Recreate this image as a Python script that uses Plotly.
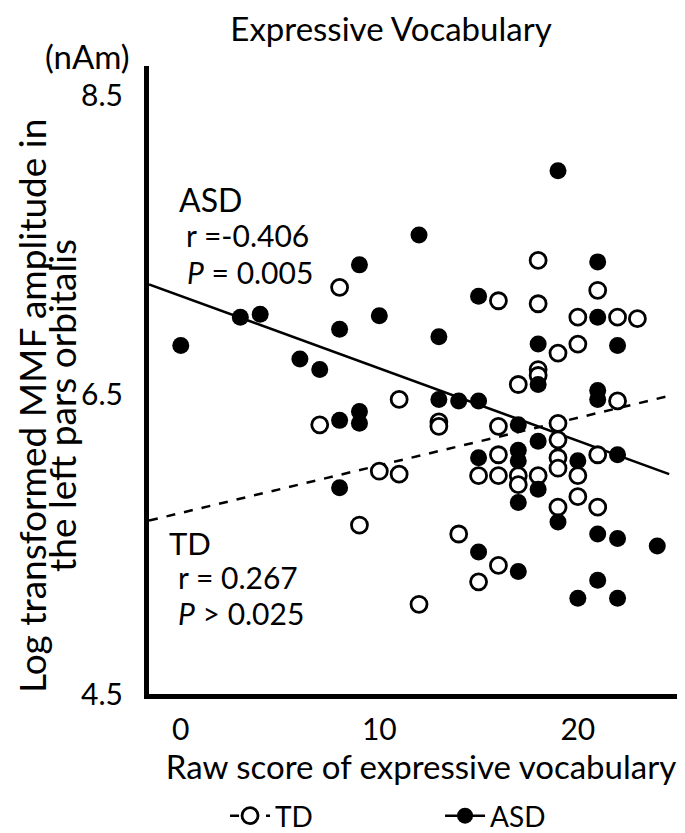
import plotly.graph_objects as go

# ---- data ----
asd_x = [0, 3, 4, 6, 7, 8, 8, 8, 9, 9, 9, 10, 12, 13, 13, 15, 19, 21, 18, 21, 22, 18, 14, 15,
         21, 21, 17, 18, 15, 17, 17, 20, 22, 18, 17, 19, 21, 22, 24, 15, 17, 21, 20, 22]
asd_y = [6.83, 7.02, 7.04, 6.74, 6.67, 6.94, 6.33, 5.88, 7.37, 6.39, 6.31, 7.03, 7.57, 6.89, 6.47,
         7.16, 8.00, 7.39, 6.84, 7.02, 6.83, 6.57, 6.46, 6.46, 6.53, 6.47, 6.30, 6.19, 6.08, 6.13,
         6.06, 6.06, 6.10, 5.87, 5.78, 5.65, 5.57, 5.54, 5.49, 5.45, 5.32, 5.26, 5.14, 5.14]

td_x = [8, 7, 11, 10, 11, 9, 12, 13, 13, 18, 21, 16, 18, 20, 22, 23, 20, 19, 18, 18, 17, 22,
        16, 19, 19, 16, 21, 19, 19, 15, 16, 17, 17, 18, 20, 20, 21, 19, 14, 16, 15]
td_y = [7.22, 6.30, 6.47, 5.99, 5.97, 5.63, 5.10, 6.32, 6.29, 7.40, 7.20, 7.13, 7.11, 7.02, 7.02,
        7.01, 6.84, 6.78, 6.67, 6.63, 6.57, 6.46, 6.29, 6.31, 6.20, 6.10, 6.10, 6.08, 6.01, 5.96,
        5.96, 5.96, 5.90, 5.96, 5.96, 5.82, 5.75, 5.75, 5.57, 5.36, 5.25]

# regression lines (end points)
asd_fit_x = [-1.6, 24.6]
asd_fit_y = [7.24, 5.97]
td_fit_x = [-1.6, 24.8]
td_fit_y = [5.66, 6.50]

x_ticks = [0, 10, 20]
y_ticks = [4.5, 6.5, 8.5]

FONT = "Lato"

fig = go.Figure()

fig.add_trace(go.Scatter(x=td_fit_x, y=td_fit_y, mode="lines",
                         line=dict(color="black", width=2.5, dash="dash"),
                         showlegend=False, hoverinfo="skip"))
fig.add_trace(go.Scatter(x=asd_fit_x, y=asd_fit_y, mode="lines",
                         line=dict(color="black", width=2.5),
                         showlegend=False, hoverinfo="skip"))
fig.add_trace(go.Scatter(x=td_x, y=td_y, mode="markers",
                         marker=dict(symbol="circle", size=16, color="white",
                                     line=dict(color="black", width=2.8)),
                         showlegend=False))
fig.add_trace(go.Scatter(x=asd_x, y=asd_y, mode="markers",
                         marker=dict(symbol="circle", size=17, color="black",
                                     line=dict(color="black", width=0)),
                         showlegend=False))

# legend entries
fig.add_trace(go.Scatter(x=[None], y=[None], mode="lines+markers", name="TD",
                         line=dict(color="black", width=2.5, dash="dash"),
                         marker=dict(symbol="circle", size=16, color="white",
                                     line=dict(color="black", width=2.8))))
fig.add_trace(go.Scatter(x=[None], y=[None], mode="lines+markers", name="ASD",
                         line=dict(color="black", width=2.5),
                         marker=dict(symbol="circle", size=17, color="black")))

ann_font = dict(family=FONT, size=30, color="black")
annotations = [
    dict(text="ASD", x=-0.2, y=7.81, xref="x", yref="y", xanchor="left", yanchor="middle",
         showarrow=False, font=dict(family=FONT, size=32, color="black")),
    dict(text="r =-0.406", x=0.15, y=7.57, xref="x", yref="y", xanchor="left", yanchor="middle",
         showarrow=False, font=ann_font),
    dict(text="<i>P</i> = 0.005", x=0.2, y=7.32, xref="x", yref="y", xanchor="left", yanchor="middle",
         showarrow=False, font=ann_font),
    dict(text="TD", x=-0.7, y=5.51, xref="x", yref="y", xanchor="left", yanchor="middle",
         showarrow=False, font=dict(family=FONT, size=31, color="black")),
    dict(text="r = 0.267", x=-0.25, y=5.28, xref="x", yref="y", xanchor="left", yanchor="middle",
         showarrow=False, font=ann_font),
    dict(text="<i>P</i> > 0.025", x=-0.25, y=5.04, xref="x", yref="y", xanchor="left", yanchor="middle",
         showarrow=False, font=ann_font),
    dict(text="(nAm)", x=0, y=1, xref="paper", yref="paper", xanchor="right", yanchor="middle",
         xshift=-17, yshift=10, showarrow=False, font=dict(family=FONT, size=33, color="black")),
    dict(text="Log transformed MMF amplitude in", x=0, y=0.5, xref="paper", yref="paper",
         xanchor="center", yanchor="middle", textangle=-90, xshift=-118, yshift=-26,
         showarrow=False, font=dict(family=FONT, size=37, color="black")),
    dict(text="the left pars orbitalis", x=0, y=0.5, xref="paper", yref="paper",
         xanchor="center", yanchor="middle", textangle=-90, xshift=-88, yshift=-26,
         showarrow=False, font=dict(family=FONT, size=37, color="black")),
]

fig.update_layout(
    width=685, height=833,
    margin=dict(l=141, r=0, t=58, b=143),
    paper_bgcolor="white", plot_bgcolor="white",
    font=dict(family=FONT, size=30, color="black"),
    title=dict(text="Expressive Vocabulary", x=383 / 685, xanchor="center",
               y=1 - 21 / 833, yanchor="middle", font=dict(family=FONT, size=33, color="black")),
    xaxis=dict(range=[-1.6, 25.8], tickvals=x_ticks, showgrid=False, zeroline=False,
               showline=True, linecolor="black", linewidth=5, ticks="",
               tickfont=dict(family=FONT, size=30),
               ticklabelstandoff=5,
               title=dict(text="Raw score of expressive vocabulary", standoff=6,
                          font=dict(family=FONT, size=33))),
    yaxis=dict(range=[4.5, 8.7], tickvals=y_ticks, tickformat=".1f", showgrid=False, zeroline=False,
               showline=True, linecolor="black", linewidth=5, ticks="",
               tickfont=dict(family=FONT, size=30),
               ticklabelstandoff=15),
    legend=dict(orientation="h", x=0.535, xanchor="center", y=-0.195, yanchor="middle",
                font=dict(family=FONT, size=28), itemwidth=40, entrywidth=160),
    annotations=annotations,
    showlegend=True,
)

fig.write_html("out.html")
